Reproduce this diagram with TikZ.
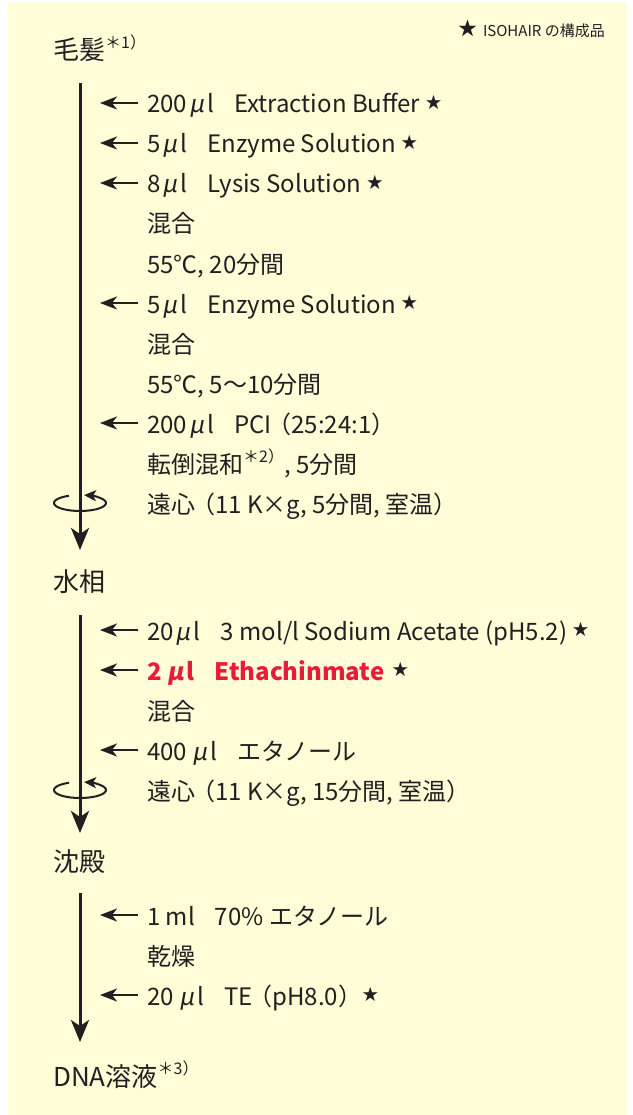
\documentclass[tikz,border=0pt]{standalone}
\usepackage{fontspec}
\setmainfont{Noto Sans CJK JP}
\newfontfamily\mufont[FakeSlant=0.18]{Noto Sans CJK JP}
\usetikzlibrary{arrows.meta,calc}
\definecolor{bg}{RGB}{255,252,216}
\definecolor{ink}{RGB}{35,31,32}
\definecolor{redtxt}{RGB}{232,28,58}
\tikzset{
  rowtxt/.style={anchor=base west, inner sep=0pt, font=\fontsize{24}{24}\selectfont, text=ink},
  headtxt/.style={anchor=base west, inner sep=0pt, font=\fontsize{26}{26}\selectfont, text=ink},
  flow/.style={draw=ink, line width=3pt, -{Stealth[length=22pt,width=18pt,inset=6pt]}},
  addarrow/.style={draw=ink, line width=2.2pt, -{Stealth[length=17pt,width=13pt,inset=5pt]}},
  spin/.style={draw=ink, line width=2pt, -{Stealth[length=12pt,width=11pt,inset=3pt]}},
}
\newcommand{\mystar}{\raisebox{0.2em}{\fontsize{16}{16}\selectfont ★}}
\newcommand{\myu}{{\mufont μ}}
\newcommand{\gap}{\hspace{20pt}}
\newcommand{\mynote}[1]{\raisebox{0.45em}{\fontsize{16}{16}\selectfont #1}}
\begin{document}
\begin{tikzpicture}[x=1pt,y=1pt]
\useasboundingbox (0,0) rectangle (632,-1115);
\fill[bg] (8,-3) rectangle (627,-1115);

% legend
\node[anchor=base east, inner sep=0pt, font=\fontsize{15}{15}\selectfont, text=ink] (legend) at (605,-37) {\raisebox{0.1em}{\fontsize{19}{19}\selectfont ★}\, ISOHAIR の構成品};

% headings
\node[headtxt] (h1) at (53,-60) {毛髪\mynote{＊1）}};
\node[headtxt] (h2) at (53,-591) {水相};
\node[headtxt] (h3) at (53,-871) {沈殿};
\node[headtxt] (h4) at (53,-1086) {DNA溶液\mynote{＊3）}};

% flow lines
\coordinate (f1s) at (80,-83);  \coordinate (f1e) at (80,-550);
\coordinate (f2s) at (80,-615); \coordinate (f2e) at (80,-833);
\coordinate (f3s) at (80,-893); \coordinate (f3e) at (80,-1042);
\draw[flow] (f1s) -- (f1e);
\draw[flow] (f2s) -- (f2e);
\draw[flow] (f3s) -- (f3e);

% group 1
\node[rowtxt] (r1) at (147,-113) {200\kern2pt\myu\kern3pt l\gap Extraction Buffer \mystar};
\node[rowtxt] (r2) at (147,-153) {5\kern2pt\myu\kern3pt l\gap Enzyme Solution \mystar};
\node[rowtxt] (r3) at (147,-193) {8\kern2pt\myu\kern3pt l\gap Lysis Solution \mystar};
\node[rowtxt] (r4) at (147,-233) {混合};
\node[rowtxt] (r5) at (147,-273) {55℃, 20分間};
\node[rowtxt] (r6) at (147,-313) {5\kern2pt\myu\kern3pt l\gap Enzyme Solution \mystar};
\node[rowtxt] (r7) at (147,-353) {混合};
\node[rowtxt] (r8) at (147,-393) {55℃, 5〜10分間};
\node[rowtxt] (r9) at (147,-433) {200\kern2pt\myu\kern3pt l\gap PCI\kern-4pt（25:24:1）};
\node[rowtxt] (r10) at (147,-473) {転倒混和\mynote{＊2）}, 5分間};
\node[rowtxt] (r11) at (147,-513) {遠心\kern-4pt（11 K×g, 5分間, 室温）};

\foreach \y/\n in {103/a1,143/a2,183/a3,303/a6,423/a9}{
  \coordinate (\n s) at (138,-\y);
  \coordinate (\n e) at (100,-\y);
  \draw[addarrow] (\n s) -- (\n e);
}

% group 2
\node[rowtxt] (s1) at (147,-640) {20\kern2pt\myu\kern3pt l\gap 3 mol/l Sodium Acetate (pH5.2) \mystar};
\node[rowtxt] (s2) at (147,-680) {{\color{redtxt}\bfseries 2 \myu\kern3pt l\gap Ethachinmate}\hspace{8pt}\mystar};
\node[rowtxt] (s3) at (147,-720) {混合};
\node[rowtxt] (s4) at (147,-760) {400 \myu\kern3pt l\gap エタノール};
\node[rowtxt] (s5) at (147,-800) {遠心\kern-4pt（11 K×g, 15分間, 室温）};
\foreach \y/\n in {630/b1,670/b2,750/b4}{
  \coordinate (\n s) at (138,-\y);
  \coordinate (\n e) at (100,-\y);
  \draw[addarrow] (\n s) -- (\n e);
}

% group 3
\node[rowtxt] (t1) at (147,-925) {1 ml\gap 70\% エタノール};
\node[rowtxt] (t2) at (147,-965) {乾燥};
\node[rowtxt] (t3) at (147,-1005) {20 \myu\kern3pt l\gap TE\kern-4pt（pH8.0）\mystar};
\foreach \y/\n in {915/c1,995/c3}{
  \coordinate (\n s) at (138,-\y);
  \coordinate (\n e) at (100,-\y);
  \draw[addarrow] (\n s) -- (\n e);
}

% centrifuge symbols
\coordinate (sp1) at (80,-503);
\coordinate (sp2) at (80,-790);
\draw[spin] ($(sp1)+(115:26 and 8)$) arc[start angle=115, end angle=441, x radius=26, y radius=8];
\draw[spin] ($(sp2)+(115:26 and 8)$) arc[start angle=115, end angle=441, x radius=26, y radius=8];
\end{tikzpicture}
\end{document}
